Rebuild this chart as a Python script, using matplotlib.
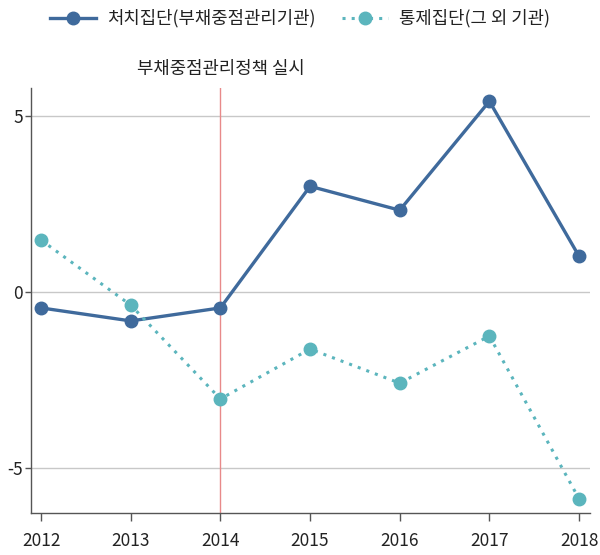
import matplotlib
matplotlib.use("Agg")
import matplotlib.pyplot as plt

plt.rcParams['font.family'] = ['Noto Sans CJK KR', 'DejaVu Sans']
plt.rcParams['axes.unicode_minus'] = False

years = [2012, 2013, 2014, 2015, 2016, 2017, 2018]
treated = [-0.45, -0.82, -0.45, 3.01, 2.33, 5.43, 1.02]
control = [1.48, -0.37, -3.04, -1.62, -2.59, -1.25, -5.88]
treated_label = "처치집단(부채중점관리기관)"
control_label = "통제집단(그 외 기관)"
policy_year = 2014
policy_text = "부채중점관리정책 실시"
yticks = [-5, 0, 5]

fig = plt.figure(figsize=(6, 5.55), dpi=100)
ax = fig.add_axes([0.052, 0.076, 0.931, 0.765])

for y in yticks:
    ax.axhline(y, color="#c8c8c8", lw=1, zorder=1)
ax.axvline(policy_year, color="#e88a8a", lw=1, zorder=1)

ax.plot(years, treated, color="#3f6a9c", lw=2.4, marker="o", ms=9,
        label=treated_label, zorder=3)
ax.plot(years, control, color="#5bb5bd", lw=2.2, ls=(0, (1, 2)), marker="o",
        ms=9, label=control_label, zorder=3)

ax.set_xlim(2011.89, 2018.12)
ax.set_ylim(-6.28, 5.8)
ax.set_xticks(years)
ax.set_yticks(yticks)
ax.tick_params(axis="x", length=6, width=1, color="#555555", labelsize=12.5,
               pad=8, labelcolor="#222222")
ax.tick_params(axis="y", length=4, width=1, color="#555555", labelsize=12.5,
               pad=2, labelcolor="#222222")

for side in ["top", "right"]:
    ax.spines[side].set_visible(False)
for side in ["left", "bottom"]:
    ax.spines[side].set_color("#555555")
    ax.spines[side].set_linewidth(1)

ax.text(policy_year, 1.045, policy_text, transform=ax.get_xaxis_transform(),
        ha="center", va="center", fontsize=12.8, color="#222222")

fig.legend(loc="upper center", bbox_to_anchor=(0.5, 1.012), ncol=2,
           frameon=False, fontsize=12.8, handlelength=2.6, columnspacing=1.5,
           handletextpad=0.6, labelcolor="#222222")

fig.savefig("out.png", dpi=100)
